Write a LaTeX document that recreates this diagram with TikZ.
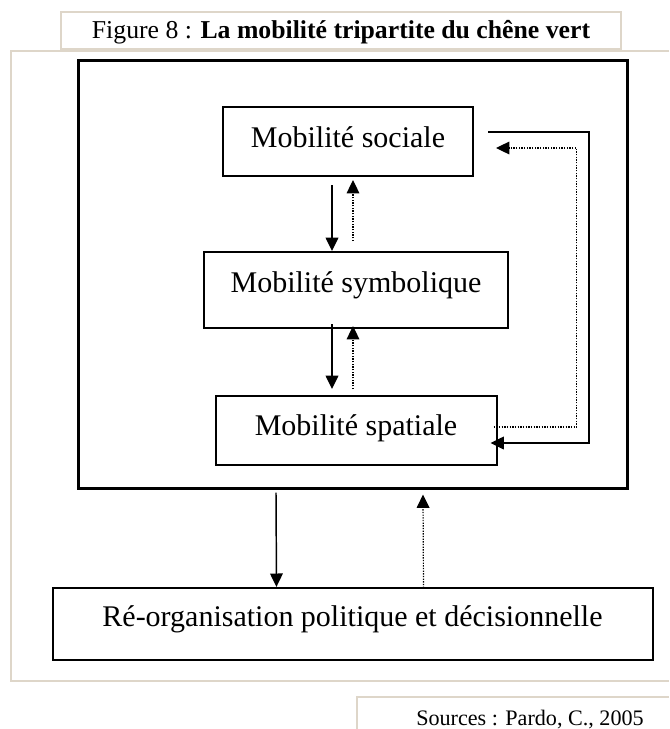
\documentclass[tikz,border=0pt]{standalone}
\usepackage{fontspec}
\setmainfont{Liberation Serif}
\usepackage{tikz}
\usetikzlibrary{positioning, calc, arrows.meta}
\definecolor{bordbeige}{RGB}{222,214,201}

\begin{document}
\begin{tikzpicture}[x=0.75pt, y=-0.75pt, >={Triangle[length=10pt, width=9.5pt]},
    boite/.style={rectangle, draw, line width=1.5pt, inner sep=0pt, text height=30pt, font=\fontsize{22.5}{27}\selectfont},
    plein/.style={->, line width=1.1pt},
    pointille/.style={->, line width=0.9pt, dash pattern=on 1pt off 1pt}]
    \path[fill=white, use as bounding box] (0,0) rectangle (669,729);
    \draw[bordbeige, line width=1.5pt] (669,51) -- (11,51) -- (11,681) -- (669,681);
    \draw[bordbeige, line width=1.5pt] (669,697) -- (357,697) -- (357,729);
    \node[draw=bordbeige, fill=white, line width=1.5pt, inner sep=0pt, minimum width=420pt, text height=19.5pt, text depth=8.25pt, font=\fontsize{19.3}{23}\selectfont](titre) at (341,30.5){Figure 8 : \textbf{La mobilité tripartite du chêne vert}};
    \node[anchor=base, font=\fontsize{16.6}{20}\selectfont](sources) at (530,725){Sources : Pardo, C., 2005};
    \node[rectangle, draw, line width=2.25pt, minimum width=411.75pt, minimum height=321pt](cadre) at (352.5,274){};
    \node[boite, minimum width=187.5pt, text depth=21.75pt](sociale) at (348,141.5){Mobilité sociale};
    \node[boite, minimum width=228pt, text depth=27pt, below=55.5pt of sociale, xshift=6pt](symbolique){Mobilité symbolique};
    \node[boite, minimum width=210.75pt, text height=29.25pt, text depth=22.5pt, below=49.5pt of symbolique](spatiale){Mobilité spatiale};
    \node[boite, minimum width=450pt, text height=29.25pt, text depth=24.75pt, below=73pt of cadre](reorg){Ré-organisation politique et décisionnelle};
    % Arrows
    \draw[plein] ($(sociale.south)+(-16,8)$) -- ($(symbolique.north)+(-24,0)$);
    \draw[pointille] ($(symbolique.north)+(-3,-10)$) -- ($(sociale.south)+(5,3)$);
    \draw[plein] ($(symbolique.south)+(-24,-5)$) -- ($(spatiale.north)+(-24,-6)$);
    \draw[pointille] ($(spatiale.north)+(-3,-6)$) -- ($(symbolique.south)+(-3,-3)$);
    \draw[plein] ($(sociale.east)+(14,-9.5)$) -- ++(101,0) |- ($(spatiale.east)+(-7,12.5)$);
    \draw[pointille] ($(spatiale.east)+(-4,-3.5)$) -- ++(83,0) |- ($(sociale.east)+(22,6.5)$);
    \draw[plein] ($(cadre.south)+(-76.5,3)$) -- ($(reorg.north)+(-76,0)$);
    \draw[pointille] ($(reorg.north)+(71,1)$) -- ($(cadre.south)+(70.5,5)$);
\end{tikzpicture}
\end{document}
